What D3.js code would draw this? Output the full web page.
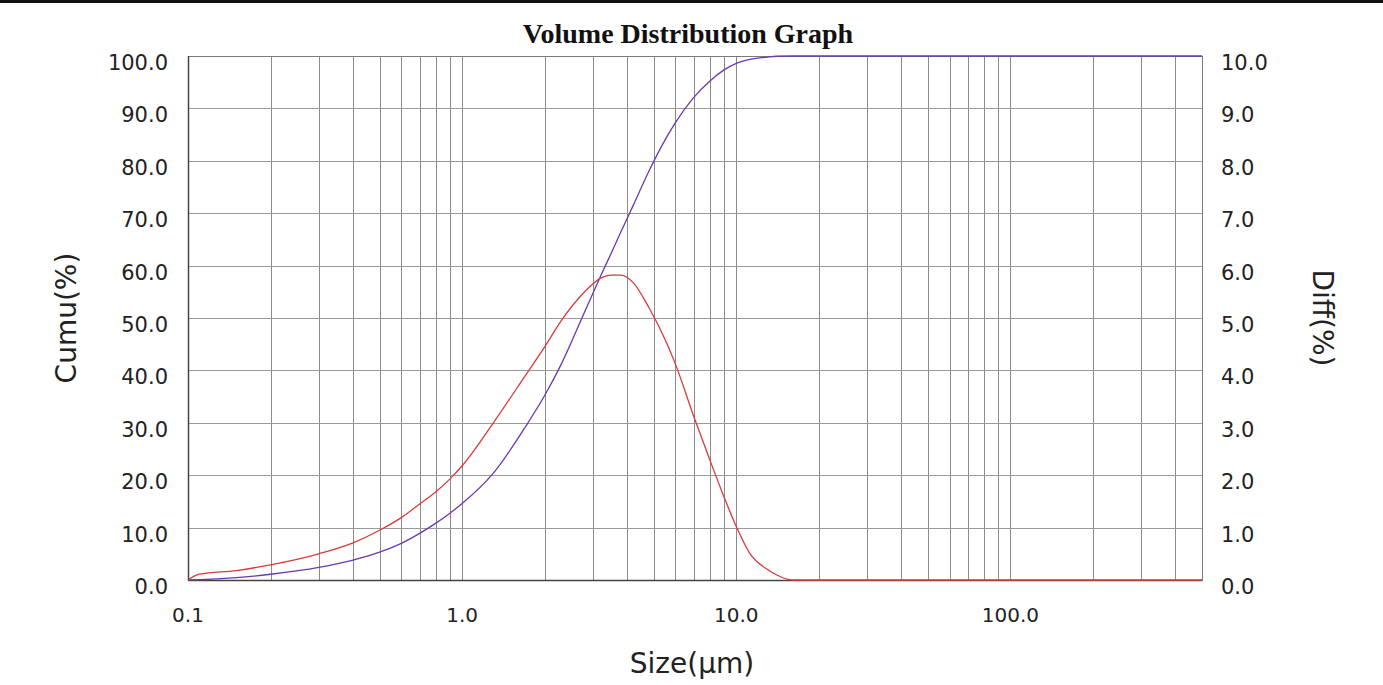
<!DOCTYPE html>
<html>
<head>
<meta charset="utf-8">
<script src="https://cdn.jsdelivr.net/npm/d3@7"></script>
<style>
  html, body { margin: 0; padding: 0; background: #fff; }
  svg { display: block; }
</style>
</head>
<body>
<div id="chart"></div>
<script>
// particle size (µm) and the two measured series
const sizes = [0.1, 0.11, 0.15, 0.2, 0.3, 0.4, 0.5, 0.6, 0.7, 0.8, 0.9, 1.0, 1.3, 1.7, 2.0, 2.3, 2.8, 3.2, 3.5, 3.8, 4.2, 4.8, 5.6, 6.0, 7.0, 8.0, 9.0, 10.0, 11.2, 13.0, 14.0, 16.0, 20, 50, 100, 500];
const cumuValues = [0, 0.05, 0.45, 1.1, 2.4, 3.8, 5.3, 7.0, 8.9, 10.8, 12.7, 14.6, 20.4, 29.2, 35.2, 41.2, 51.2, 58.0, 62.4, 66.5, 71.4, 78.0, 84.7, 87.3, 92.1, 95.2, 97.3, 98.6, 99.35, 99.8, 99.95, 100, 100, 100, 100, 100];
const diffValues = [0, 0.11, 0.18, 0.29, 0.5, 0.71, 0.95, 1.19, 1.45, 1.68, 1.92, 2.18, 3.0, 3.9, 4.45, 4.95, 5.5, 5.76, 5.82, 5.82, 5.68, 5.2, 4.5, 4.12, 3.12, 2.3, 1.6, 1.02, 0.51, 0.2, 0.1, 0, 0, 0, 0, 0];

const xTickLabels = [0.1, 1, 10, 100];
const cumuTicks = [0, 10, 20, 30, 40, 50, 60, 70, 80, 90, 100];
const diffTicks = [0, 1, 2, 3, 4, 5, 6, 7, 8, 9, 10];

const width = 1383, height = 685;
const plotLeft = 188, plotRight = 1202, plotTop = 56, plotBottom = 580;
const tickFont = "'DejaVu Sans', Verdana, sans-serif";

const svg = d3.select("#chart").append("svg")
    .attr("width", width)
    .attr("height", height);

// thick rule across the top of the page
svg.append("rect")
    .attr("x", 0).attr("y", 0)
    .attr("width", width).attr("height", 3)
    .attr("fill", "#111");

const x = d3.scaleLog().domain([0.1, 500]).range([plotLeft, plotRight]);
const yCumu = d3.scaleLinear().domain([0, 100]).range([plotBottom, plotTop]);
const yDiff = d3.scaleLinear().domain([0, 10]).range([plotBottom, plotTop]);

// grid
svg.append("g")
    .selectAll("line")
    .data(x.ticks())
    .join("line")
    .attr("x1", d => Math.round(x(d)) + 0.5)
    .attr("x2", d => Math.round(x(d)) + 0.5)
    .attr("y1", plotTop).attr("y2", plotBottom)
    .attr("stroke", "#8a8a8a")
    .attr("stroke-width", 1);

svg.append("g")
    .selectAll("line")
    .data(cumuTicks)
    .join("line")
    .attr("x1", plotLeft).attr("x2", plotRight)
    .attr("y1", d => Math.round(yCumu(d)) + 0.5)
    .attr("y2", d => Math.round(yCumu(d)) + 0.5)
    .attr("stroke", "#9a9a9a")
    .attr("stroke-width", 1);

// frame
svg.append("rect")
    .attr("x", plotLeft + 0.5).attr("y", plotTop + 0.5)
    .attr("width", plotRight - plotLeft).attr("height", plotBottom - plotTop)
    .attr("fill", "none")
    .attr("stroke", "#7a7a7a");
svg.append("path")
    .attr("d", `M${plotLeft + 0.5},${plotTop}V${plotBottom + 0.5}H${plotRight}`)
    .attr("fill", "none")
    .attr("stroke", "#444")
    .attr("stroke-width", 1.5);

// tick labels
svg.append("g")
    .selectAll("text")
    .data(cumuTicks)
    .join("text")
    .attr("x", 168)
    .attr("y", d => yCumu(d) + 14)
    .attr("text-anchor", "end")
    .attr("font-family", tickFont)
    .attr("font-size", 21)
    .attr("fill", "#222")
    .text(d => d.toFixed(1));

svg.append("g")
    .selectAll("text")
    .data(diffTicks)
    .join("text")
    .attr("x", 1221)
    .attr("y", d => yDiff(d) + 14)
    .attr("text-anchor", "start")
    .attr("font-family", tickFont)
    .attr("font-size", 21)
    .attr("fill", "#222")
    .text(d => d.toFixed(1));

svg.append("g")
    .selectAll("text")
    .data(xTickLabels)
    .join("text")
    .attr("x", d => x(d))
    .attr("y", 622)
    .attr("text-anchor", "middle")
    .attr("font-family", tickFont)
    .attr("font-size", 20)
    .attr("fill", "#222")
    .text(d => d.toFixed(1));

// curves
const cumuLine = d3.line()
    .x((d, i) => x(sizes[i]))
    .y(d => yCumu(d))
    .curve(d3.curveMonotoneX);
const diffLine = d3.line()
    .x((d, i) => x(sizes[i]))
    .y(d => yDiff(d))
    .curve(d3.curveMonotoneX);

svg.append("path")
    .datum(cumuValues)
    .attr("d", cumuLine)
    .attr("fill", "none")
    .attr("stroke", "#6a38b0")
    .attr("stroke-width", 1.3);

svg.append("path")
    .datum(diffValues)
    .attr("d", diffLine)
    .attr("fill", "none")
    .attr("stroke", "#d83a3a")
    .attr("stroke-width", 1.3);

// titles
svg.append("text")
    .attr("x", 688)
    .attr("y", 43)
    .attr("text-anchor", "middle")
    .attr("font-family", "'Liberation Serif', 'Times New Roman', serif")
    .attr("font-weight", "bold")
    .attr("font-size", 28)
    .attr("fill", "#111")
    .text("Volume Distribution Graph");

svg.append("text")
    .attr("x", 692)
    .attr("y", 673)
    .attr("text-anchor", "middle")
    .attr("font-family", tickFont)
    .attr("font-size", 28)
    .attr("fill", "#222")
    .text("Size(µm)");

svg.append("text")
    .attr("transform", "translate(66,318) rotate(-90)")
    .attr("text-anchor", "middle")
    .attr("dominant-baseline", "central")
    .attr("font-family", tickFont)
    .attr("font-size", 28)
    .attr("fill", "#222")
    .text("Cumu(%)");

svg.append("text")
    .attr("transform", "translate(1322,318) rotate(90)")
    .attr("text-anchor", "middle")
    .attr("dominant-baseline", "central")
    .attr("font-family", tickFont)
    .attr("font-size", 28)
    .attr("fill", "#222")
    .text("Diff(%)");
</script>
</body>
</html>
